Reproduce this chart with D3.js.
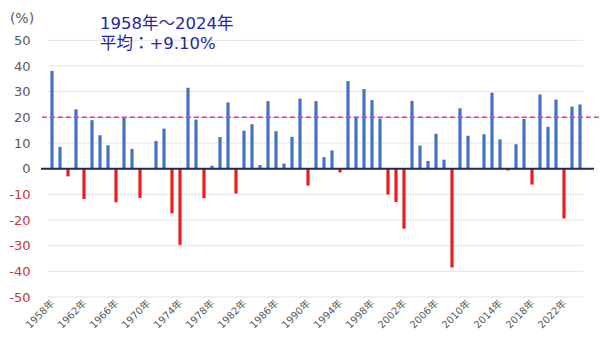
<!DOCTYPE html>
<html>
<head>
<meta charset="utf-8">
<script src="https://cdn.jsdelivr.net/npm/d3@7"></script>
<style>
  html, body { margin: 0; padding: 0; background: #fff; }
  svg { display: block; font-family: "DejaVu Sans", "Noto Sans CJK JP", sans-serif; }
</style>
</head>
<body>
<svg id="chart" width="600" height="345"></svg>
<script>
// Annual returns (%), 1958–2024
const years = d3.range(1958, 2025);
const returns = [
  38.1, 8.5, -3.0, 23.1, -11.8, 18.9, 13.0, 9.1, -13.1, 20.1,
  7.7, -11.4, 0.1, 10.8, 15.6, -17.4, -29.7, 31.5, 19.1, -11.5,
  1.1, 12.3, 25.8, -9.7, 14.8, 17.3, 1.4, 26.3, 14.6, 2.0,
  12.4, 27.3, -6.6, 26.3, 4.5, 7.1, -1.5, 34.1, 20.3, 31.0,
  26.7, 19.5, -10.1, -13.0, -23.4, 26.4, 9.0, 3.0, 13.6, 3.5,
  -38.5, 23.5, 12.8, 0.0, 13.4, 29.6, 11.4, -0.7, 9.5, 19.4,
  -6.2, 28.9, 16.3, 26.9, -19.4, 24.2, 25.0
];
const yTicks = [50, 40, 30, 20, 10, 0, -10, -20, -30, -40, -50];
const xTickYears = d3.range(1958, 2025, 4);
const referenceLine = 20;
const titleLines = ["1958年～2024年", "平均：+9.10%"];
const unitLabel = "(%)";

const svg = d3.select("#chart");

const x = d3.scaleBand()
  .domain(years)
  .range([48, 584])
  .paddingInner(0.6)
  .paddingOuter(0.3);

const y = d3.scaleLinear()
  .domain([-50, 50])
  .range([297, 40.3]);

// horizontal gridlines
svg.append("g")
  .selectAll("line")
  .data(yTicks)
  .join("line")
  .attr("x1", 48).attr("x2", 583)
  .attr("y1", d => y(d)).attr("y2", d => y(d))
  .attr("stroke", "#e4e4e4")
  .attr("stroke-width", 1);

// y tick labels
svg.append("g")
  .selectAll("text")
  .data(yTicks)
  .join("text")
  .attr("x", 30.5)
  .attr("y", d => y(d))
  .attr("dy", "0.36em")
  .attr("text-anchor", "end")
  .attr("font-size", 13)
  .attr("fill", d => d < 0 ? "#c03a3a" : "#595959")
  .text(d => d);

svg.append("text")
  .attr("x", 22)
  .attr("y", 18)
  .attr("dy", "0.36em")
  .attr("text-anchor", "middle")
  .attr("font-size", 14)
  .attr("fill", "#595959")
  .text(unitLabel);

// bars
svg.append("g")
  .selectAll("rect")
  .data(years.map((yr, i) => ({ yr, v: returns[i] })))
  .join("rect")
  .attr("x", d => x(d.yr))
  .attr("width", x.bandwidth())
  .attr("y", d => y(Math.max(0, d.v)))
  .attr("height", d => Math.abs(y(d.v) - y(0)))
  .attr("fill", d => d.v < 0 ? "#ec1c1c" : "#4472c4");

// zero axis line
svg.append("line")
  .attr("x1", 41).attr("x2", 594)
  .attr("y1", y(0)).attr("y2", y(0))
  .attr("stroke", "#1f2a5c")
  .attr("stroke-width", 2);

// reference line at 20%
svg.append("line")
  .attr("x1", 42).attr("x2", 600)
  .attr("y1", y(referenceLine)).attr("y2", y(referenceLine))
  .attr("stroke", "#d23cd2")
  .attr("stroke-width", 1.5)
  .attr("stroke-dasharray", "5,3");

// x tick labels (rotated)
svg.append("g")
  .selectAll("text")
  .data(xTickYears)
  .join("text")
  .attr("transform", d => `translate(${x(d) + x.bandwidth() / 2 + 3},${304}) rotate(-45)`)
  .attr("text-anchor", "end")
  .attr("font-size", 10)
  .attr("fill", "#595959")
  .text(d => d + "年");

// title block
svg.append("g")
  .selectAll("text")
  .data(titleLines)
  .join("text")
  .attr("x", 100)
  .attr("y", (d, i) => 29 + i * 20)
  .attr("font-size", 16.5)
  .attr("fill", "#2424a8")
  .text(d => d);
</script>
</body>
</html>
